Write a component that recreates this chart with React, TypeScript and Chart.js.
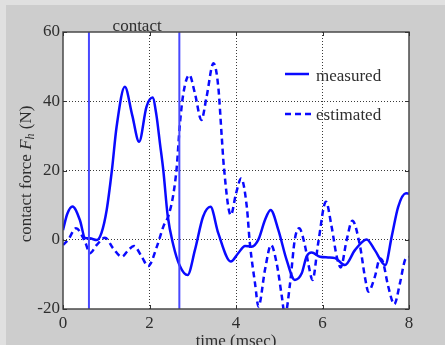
import { useEffect, useRef } from "react";
import { Chart, registerables } from "chart.js";

Chart.register(...registerables);

const measuredTime = [0, 0.1, 0.22, 0.39, 0.51, 0.62, 0.78, 0.89, 1.01, 1.13, 1.24, 1.43, 1.6, 1.76, 1.93, 2.07, 2.16, 2.24, 2.32, 2.42, 2.55, 2.7, 2.88, 3.05, 3.24, 3.41, 3.59, 3.88, 4.05, 4.21, 4.36, 4.52, 4.67, 4.8, 4.98, 5.17, 5.36, 5.52, 5.63, 5.75, 5.94, 6.13, 6.29, 6.52, 6.75, 7.02, 7.21, 7.45, 7.6, 7.75, 7.93, 8];
const measuredForce = [2.8, 7.5, 9.6, 5.7, 0.5, 0.4, -0.1, 2, 8.6, 20, 32.7, 44.2, 36, 28.3, 38.4, 41.1, 36, 28, 20, 7, -1.5, -7.5, -10.2, -3, 6.7, 9.5, 1.9, -6.3, -3.9, -1.8, -2, 0.1, 5.7, 8.6, 2.8, -5.8, -11.6, -9.7, -4.9, -3.7, -4.9, -5.1, -5.3, -7.3, -3, 0.1, -3, -7.3, 0.9, 9.5, 13.4, 13.3];

const estimatedTime = [0, 0.12, 0.3, 0.51, 0.62, 0.78, 0.97, 1.16, 1.36, 1.51, 1.64, 1.82, 1.97, 2.17, 2.32, 2.44, 2.55, 2.63, 2.7, 2.78, 2.92, 3.05, 3.2, 3.32, 3.48, 3.59, 3.67, 3.72, 3.88, 4.0, 4.12, 4.25, 4.32, 4.44, 4.52, 4.67, 4.81, 4.94, 5.06, 5.13, 5.25, 5.36, 5.46, 5.6, 5.67, 5.77, 5.9, 6.08, 6.21, 6.33, 6.42, 6.56, 6.69, 6.87, 6.98, 7.06, 7.21, 7.33, 7.4, 7.52, 7.66, 7.79, 7.91, 8];
const estimatedForce = [-1.5, 0, 3.3, -0.6, -3.9, -1.5, 0.6, -2.5, -4.9, -3, -1.8, -4.9, -7.6, -2, 3.8, 7, 13, 21, 33, 42, 47.6, 42.3, 34.6, 41.3, 51, 44.2, 29.8, 21, 7.1, 13.3, 17.7, 9.5, -1, -12.6, -19.3, -8.7, -1.5, -6.8, -16.4, -22, -12.6, 0.1, 3.3, -2, -6.8, -11.6, -1, 11, 3.8, -4.9, -8, 0, 5.5, -2, -10.7, -15, -10.7, -5.4, -6.5, -13.5, -18.6, -12.6, -5.8, -4.9];

const contactTimes = [0.6, 2.69];
const xTickValues = [0, 2, 4, 6, 8];
const yTickValues = [-20, 0, 20, 40, 60];
const xTickLabels = ["0", "2", "4", "6", "8"];
const yTickLabels = ["-20", "0", "20", "40", "60"];
const legendLabels = ["measured", "estimated"];
const topLabel = "contact";
const xTitle = "time (msec)";

const FONT = '"Liberation Serif", "Times New Roman", serif';
const TEXT = "#2e2e2e";
const BLUE = "#0a0aff";

const decor = {
  id: "decor",
  beforeDraw(chart: any) {
    const { ctx, width, height, chartArea: a } = chart;
    ctx.save();
    ctx.fillStyle = "#e0e0e0";
    ctx.fillRect(0, 0, width, height);
    ctx.fillStyle = "#cdcdcd";
    ctx.fillRect(6, 5, width - 6, height - 5);
    ctx.fillStyle = "#ffffff";
    ctx.fillRect(a.left, a.top, a.right - a.left, a.bottom - a.top);
    ctx.restore();
  },
  afterDatasetsDraw(chart: any) {
    const { ctx, chartArea: a, scales } = chart;
    const xs = scales.x;
    const ys = scales.y;
    ctx.save();
    ctx.strokeStyle = "#4a4a4a";
    ctx.lineWidth = 1.5;
    ctx.strokeRect(a.left, a.top, a.right - a.left, a.bottom - a.top);
    ctx.lineWidth = 1;
    ctx.strokeStyle = "#333";
    const tl = 4;
    ctx.beginPath();
    xTickValues.forEach((v) => {
      const px = Math.round(xs.getPixelForValue(v)) + 0.5;
      ctx.moveTo(px, a.bottom);
      ctx.lineTo(px, a.bottom - tl);
      ctx.moveTo(px, a.top);
      ctx.lineTo(px, a.top + tl);
    });
    yTickValues.forEach((v) => {
      const py = Math.round(ys.getPixelForValue(v)) + 0.5;
      ctx.moveTo(a.left, py);
      ctx.lineTo(a.left + tl, py);
      ctx.moveTo(a.right, py);
      ctx.lineTo(a.right - tl, py);
    });
    ctx.stroke();
    ctx.restore();
  },
  afterDraw(chart: any) {
    const { ctx, chartArea: a, scales } = chart;
    const xs = scales.x;
    ctx.save();
    ctx.fillStyle = TEXT;
    ctx.font = `17px ${FONT}`;
    ctx.textBaseline = "alphabetic";
    // contact label
    ctx.textAlign = "center";
    const cx = (xs.getPixelForValue(contactTimes[0]) + xs.getPixelForValue(contactTimes[1])) / 2 + 3;
    ctx.fillText(topLabel, cx, 30.5);
    // x title
    ctx.fillText(xTitle, (a.left + a.right) / 2, 345.5);
    // legend
    ctx.textAlign = "left";
    ctx.strokeStyle = BLUE;
    ctx.lineWidth = 2.5;
    ctx.beginPath();
    ctx.moveTo(285, 74);
    ctx.lineTo(309, 74);
    ctx.stroke();
    ctx.setLineDash([6, 4]);
    ctx.beginPath();
    ctx.moveTo(285, 114);
    ctx.lineTo(312, 114);
    ctx.stroke();
    ctx.setLineDash([]);
    ctx.fillText(legendLabels[0], 316, 81);
    ctx.fillText(legendLabels[1], 316, 119.5);
    // y title
    const parts = [
      { t: "contact force ", f: `17px ${FONT}`, dy: 0 },
      { t: "F", f: `italic 17px ${FONT}`, dy: 0 },
      { t: "h", f: `italic 12px ${FONT}`, dy: 3 },
      { t: " (N)", f: `17px ${FONT}`, dy: 0 },
    ];
    let total = 0;
    const widths = parts.map((p) => {
      ctx.font = p.f;
      const w = ctx.measureText(p.t).width;
      total += w;
      return w;
    });
    ctx.translate(31, 174);
    ctx.rotate(-Math.PI / 2);
    let x = -total / 2;
    parts.forEach((p, i) => {
      ctx.font = p.f;
      ctx.fillText(p.t, x, p.dy);
      x += widths[i];
    });
    ctx.restore();
  },
};

export default function App() {
  const ref = useRef<HTMLCanvasElement>(null);
  useEffect(() => {
    if (!ref.current) return;
    const toPts = (ts: number[], vs: number[]) => ts.map((t, i) => ({ x: t, y: vs[i] }));
    const edge = (min: number, max: number) => (c: any) =>
      c.tick && (c.tick.value === min || c.tick.value === max) ? "rgba(0,0,0,0)" : "#3a3a3a";
    const chart = new Chart(ref.current, {
      type: "line",
      data: {
        datasets: [
          ...contactTimes.map((c) => ({
            data: [
              { x: c, y: yTickValues[0] },
              { x: c, y: yTickValues[yTickValues.length - 1] },
            ],
            borderColor: "#4848ff",
            borderWidth: 2,
            pointRadius: 0,
            tension: 0,
          })),
          {
            data: toPts(measuredTime, measuredForce),
            borderColor: BLUE,
            borderWidth: 2.5,
            pointRadius: 0,
            cubicInterpolationMode: "monotone" as const,
            clip: 0,
          },
          {
            data: toPts(estimatedTime, estimatedForce),
            borderColor: BLUE,
            borderWidth: 2.5,
            borderDash: [6, 4],
            pointRadius: 0,
            cubicInterpolationMode: "monotone" as const,
            clip: 0,
          },
        ],
      },
      options: {
        animation: false,
        responsive: false,
        devicePixelRatio: 1,
        layout: { padding: { left: 0, top: 32, right: 36, bottom: 0 } },
        plugins: { legend: { display: false }, tooltip: { enabled: false }, title: { display: false } },
        scales: {
          x: {
            type: "linear",
            min: 0,
            max: 8,
            afterBuildTicks: (s: any) => {
              s.ticks = xTickValues.map((v) => ({ value: v }));
            },
            afterFit: (s: any) => {
              s.height = 36;
            },
            ticks: {
              callback: (v: any) => xTickLabels[xTickValues.indexOf(Number(v))] ?? "",
              font: { family: FONT, size: 17 },
              color: TEXT,
              padding: 4,
              maxRotation: 0,
              autoSkip: false,
            },
            grid: { color: edge(0, 8), lineWidth: 1, drawTicks: false },
            border: { display: false, dash: [1, 2] },
          },
          y: {
            type: "linear",
            min: -20,
            max: 60,
            afterBuildTicks: (s: any) => {
              s.ticks = yTickValues.map((v) => ({ value: v }));
            },
            afterFit: (s: any) => {
              s.width = 63;
            },
            ticks: {
              callback: (v: any) => yTickLabels[yTickValues.indexOf(Number(v))] ?? "",
              font: { family: FONT, size: 17 },
              color: TEXT,
              padding: 3,
              autoSkip: false,
            },
            grid: { color: edge(-20, 60), lineWidth: 1, drawTicks: false },
            border: { display: false, dash: [1, 2] },
          },
        },
      },
      plugins: [decor],
    });
    return () => chart.destroy();
  }, []);
  return (
    <div style={{ position: "fixed", left: 0, top: 0, width: 445, height: 345 }}>
      <canvas ref={ref} width={445} height={345} style={{ display: "block" }} />
    </div>
  );
}
